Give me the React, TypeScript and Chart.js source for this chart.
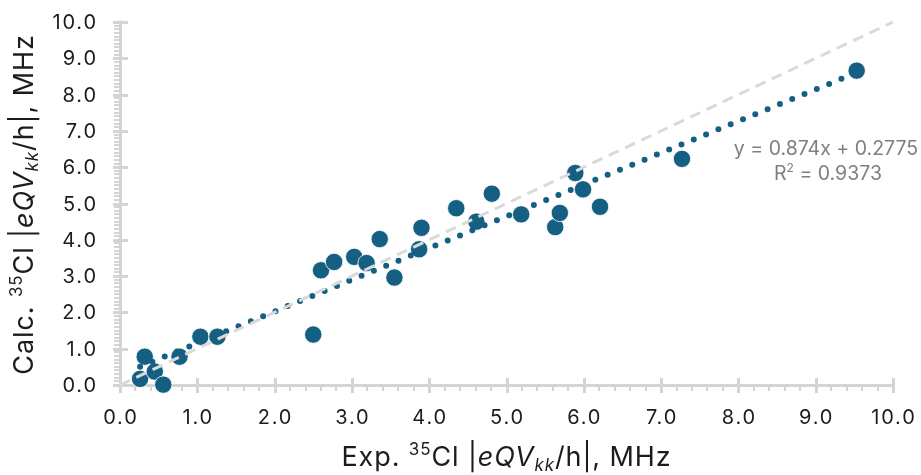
import React, { useEffect, useRef } from "react";
import { Chart, registerables } from "chart.js";

Chart.register(...registerables);

// Experimental vs calculated 35Cl quadrupole couplings, MHz
const expValues = [0.26, 0.32, 0.45, 0.56, 0.77, 1.04, 1.26, 2.5, 2.6, 2.77, 3.03, 3.19, 3.36, 3.55, 3.87, 3.9, 4.35, 4.61, 4.81, 5.19, 5.63, 5.69, 5.89, 5.99, 6.21, 7.27, 9.53];
const calcValues = [0.17, 0.78, 0.37, 0.01, 0.78, 1.33, 1.33, 1.39, 3.16, 3.39, 3.53, 3.36, 4.02, 2.96, 3.74, 4.33, 4.87, 4.5, 5.27, 4.7, 4.35, 4.74, 5.84, 5.39, 4.91, 6.23, 8.66];

// Linear fit reported on the chart
const fitSlope = 0.874;
const fitIntercept = 0.2775;
const fitR2 = "0.9373";

// Ideal agreement line y = x
const idealX = [0, 10];

// Axis tick values (both axes)
const tickValues = [0, 1, 2, 3, 4, 5, 6, 7, 8, 9, 10];
const axisMin = 0;
const axisMax = 10;

const POINT_COLOR = "#156082";
const AXIS_COLOR = "#d4d4d4";
const IDEAL_COLOR = "#dadada";
const TEXT_COLOR = "#1c1c1c";
const FONT = "Inter, 'Open Sans', 'DejaVu Sans', sans-serif";

type Seg = { t: string; italic?: boolean; sup?: boolean; sub?: boolean };

const xTitle: Seg[] = [
  { t: "Exp. " },
  { t: "35", sup: true },
  { t: "Cl |" },
  { t: "eQV", italic: true },
  { t: "kk", italic: true, sub: true },
  { t: "/h|, MHz" },
];
const yTitle: Seg[] = [
  { t: "Calc. " },
  { t: "35", sup: true },
  { t: "Cl |" },
  { t: "eQV", italic: true },
  { t: "kk", italic: true, sub: true },
  { t: "/h|, MHz" },
];

function segFont(s: Seg, size: number) {
  const sz = s.sup || s.sub ? Math.round(size * 0.62) : size;
  return `${s.italic ? "italic " : ""}${sz}px ${FONT}`;
}

function setSpacing(ctx: any, px: number) {
  if ("letterSpacing" in ctx) ctx.letterSpacing = `${px}px`;
}

// Draws mixed-style text centred on (cx, baseline)
function drawRich(ctx: CanvasRenderingContext2D, segs: Seg[], size: number, cx: number, base: number, spacing = 0) {
  setSpacing(ctx, 0);
  let total = 0;
  const widths = segs.map((s) => {
    ctx.font = segFont(s, size);
    const w = ctx.measureText(s.t).width + spacing * s.t.length;
    total += w;
    return w;
  });
  let x = cx - total / 2;
  ctx.textAlign = "left";
  ctx.textBaseline = "alphabetic";
  setSpacing(ctx, spacing);
  segs.forEach((s, i) => {
    ctx.font = segFont(s, size);
    let dy = 0;
    if (s.sup) dy = -size * 0.4;
    if (s.sub) dy = size * 0.2;
    ctx.fillText(s.t, x, base + dy);
    x += widths[i];
  });
  setSpacing(ctx, 0);
}

const decorPlugin = {
  id: "decor",
  beforeDatasetsDraw(chart: any) {
    const { ctx, scales } = chart;
    const xs = scales.x;
    const ys = scales.y;
    const x0 = xs.getPixelForValue(axisMin);
    const x1 = xs.getPixelForValue(axisMax);
    const y0 = ys.getPixelForValue(axisMin);
    const y1 = ys.getPixelForValue(axisMax);
    ctx.save();
    ctx.strokeStyle = AXIS_COLOR;
    ctx.lineCap = "butt";

    // minor ticks
    ctx.lineWidth = 2;
    ctx.beginPath();
    for (let i = 0; i <= 50; i++) {
      if (i % 5 === 0) continue;
      const px = Math.round(xs.getPixelForValue(i * 0.2));
      ctx.moveTo(px, y0);
      ctx.lineTo(px, y0 + 6);
    }
    for (let i = 0; i <= 100; i++) {
      if (i % 10 === 0) continue;
      const py = Math.round(ys.getPixelForValue(i * 0.1));
      ctx.moveTo(x0, py);
      ctx.lineTo(x0 - 6, py);
    }
    ctx.stroke();

    // major ticks crossing the axes
    ctx.lineWidth = 3;
    ctx.beginPath();
    tickValues.forEach((v) => {
      const px = Math.round(xs.getPixelForValue(v)) + 0.5;
      ctx.moveTo(px, y0 - 7);
      ctx.lineTo(px, y0 + 8);
      const py = Math.round(ys.getPixelForValue(v)) + 0.5;
      ctx.moveTo(x0 - 7, py);
      ctx.lineTo(x0 + 8, py);
    });
    ctx.stroke();

    // axis lines
    ctx.beginPath();
    ctx.moveTo(x0, y0 + 0.5);
    ctx.lineTo(x1 + 1.5, y0 + 0.5);
    ctx.moveTo(x0 + 0.5, y0);
    ctx.lineTo(x0 + 0.5, y1 - 1.5);
    ctx.stroke();

    // tick labels
    ctx.fillStyle = TEXT_COLOR;
    ctx.font = `20px ${FONT}`;
    ctx.textBaseline = "alphabetic";
    tickValues.forEach((v) => {
      const label = v.toFixed(1);
      setSpacing(ctx, 0);
      const w = ctx.measureText(label).width + 1.8 * (label.length - 1);
      setSpacing(ctx, 1.8);
      ctx.textAlign = "left";
      ctx.fillText(label, xs.getPixelForValue(v) - w / 2, y0 + 39);
      ctx.fillText(label, x0 - 24 - w, ys.getPixelForValue(v) + 7);
    });
    setSpacing(ctx, 0);
    ctx.restore();
  },
  afterDraw(chart: any) {
    const { ctx, chartArea } = chart;
    ctx.save();
    ctx.fillStyle = TEXT_COLOR;
    // x title
    drawRich(ctx, xTitle, 27, (chartArea.left + chartArea.right) / 2, 466, 0.9);
    // y title
    ctx.translate(33, (chartArea.top + chartArea.bottom) / 2 + 1);
    ctx.rotate(-Math.PI / 2);
    drawRich(ctx, yTitle, 27, 0, 0, 0.9);
    ctx.restore();

    // fit equation
    ctx.save();
    ctx.fillStyle = "#7f7f7f";
    const sign = fitIntercept >= 0 ? "+" : "-";
    const eq = `y = ${fitSlope}x ${sign} ${Math.abs(fitIntercept)}`;
    drawRich(ctx, [{ t: eq }], 19.5, 826, 155);
    drawRich(ctx, [{ t: "R" }, { t: "2", sup: true }, { t: ` = ${fitR2}` }], 19.5, 828, 180);
    ctx.restore();
  },
};

export default function App() {
  const ref = useRef<HTMLCanvasElement | null>(null);

  useEffect(() => {
    if (!ref.current) return;
    const points = expValues.map((x, i) => ({ x, y: calcValues[i] }));
    const xLo = Math.min(...expValues);
    const xHi = Math.max(...expValues);
    const fitLine = [xLo, xHi].map((x) => ({ x, y: fitSlope * x + fitIntercept }));
    const ideal = idealX.map((x) => ({ x, y: x }));

    const chart = new Chart(ref.current, {
      type: "scatter",
      data: {
        datasets: [
          {
            label: "y = x",
            data: ideal,
            showLine: true,
            borderColor: IDEAL_COLOR,
            borderWidth: 3,
            borderDash: [11, 7],
            pointRadius: 0,
            clip: false,
            order: 0,
          } as any,
          {
            label: "Linear fit",
            data: fitLine,
            showLine: true,
            borderColor: POINT_COLOR,
            borderWidth: 6,
            borderDash: [0, 13.3],
            borderCapStyle: "round",
            pointRadius: 0,
            clip: false,
            order: 1,
          } as any,
          {
            label: "35Cl",
            data: points,
            backgroundColor: POINT_COLOR,
            borderColor: "#ffffff",
            borderWidth: 0.8,
            pointRadius: 8.7,
            clip: false,
            order: 2,
          } as any,
        ],
      },
      options: {
        responsive: false,
        animation: false,
        devicePixelRatio: 1,
        layout: { padding: { left: 0, right: 28, top: 22, bottom: 0 } },
        plugins: { legend: { display: false }, tooltip: { enabled: false } },
        scales: {
          x: {
            type: "linear",
            min: axisMin,
            max: axisMax,
            grid: { display: false, drawTicks: false },
            border: { display: false },
            ticks: { display: false, stepSize: 1 },
            afterFit: (s: any) => {
              s.height = 90;
            },
          },
          y: {
            type: "linear",
            min: axisMin,
            max: axisMax,
            grid: { display: false, drawTicks: false },
            border: { display: false },
            ticks: { display: false, stepSize: 1 },
            afterFit: (s: any) => {
              s.width = 120;
            },
          },
        },
      },
      plugins: [decorPlugin],
    });
    return () => chart.destroy();
  }, []);

  return (
    <div style={{ position: "fixed", left: 0, top: 0, width: 921, height: 475, background: "#fff" }}>
      <canvas ref={ref} width={921} height={475} style={{ display: "block" }} />
    </div>
  );
}
